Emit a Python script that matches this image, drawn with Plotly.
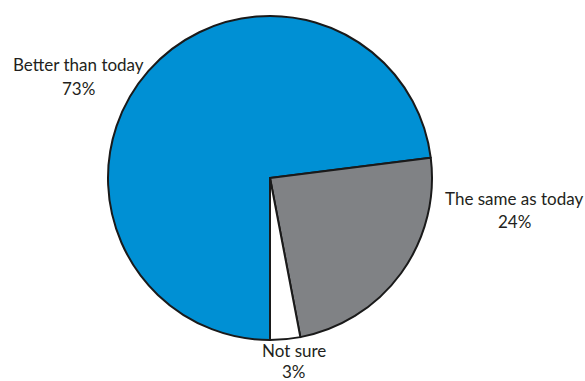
import plotly.graph_objects as go

categories = ["Better than today", "The same as today", "Not sure"]
values = [73, 24, 3]
colors = ["#0090D4", "#808285", "#FFFFFF"]

# label placement (pixels from top-left) for each category: (x, y_label, y_pct)
label_pos = [(78, 64, 89), (514, 198, 221), (294, 350, 371)]

W, H = 585, 381
cx, cy, r = 270, 178, 162

fig = go.Figure(go.Pie(
    labels=categories,
    values=values,
    sort=False,
    direction="clockwise",
    rotation=180,
    marker=dict(colors=colors, line=dict(color="#1a1a1a", width=2)),
    textinfo="none",
    hoverinfo="label+percent",
    showlegend=False,
    domain=dict(x=[(cx - r) / W, (cx + r) / W], y=[1 - (cy + r) / H, 1 - (cy - r) / H]),
))

font = dict(family="Lato, sans-serif", size=17, color="#231F20")
for cat, val, (x, yl, yp) in zip(categories, values, label_pos):
    fig.add_annotation(x=x / W, y=1 - yl / H, xref="paper", yref="paper", text=cat,
                       showarrow=False, font=font, xanchor="center", yanchor="middle")
    fig.add_annotation(x=x / W, y=1 - yp / H, xref="paper", yref="paper", text=f"{val}%",
                       showarrow=False, font=font, xanchor="center", yanchor="middle")

fig.update_layout(width=W, height=H, margin=dict(l=0, r=0, t=0, b=0),
                  paper_bgcolor="white", plot_bgcolor="white")
fig.write_html("out.html", config={"displayModeBar": False},
               post_script="document.body.style.margin='0';")
